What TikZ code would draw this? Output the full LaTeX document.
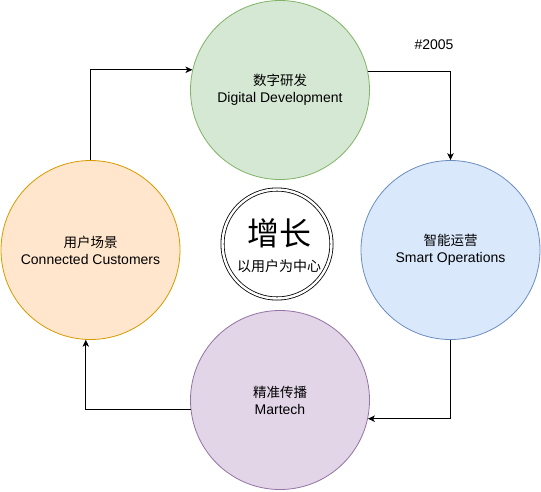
\documentclass[tikz,border=0pt]{standalone}
\usepackage{fontspec}
\setmainfont{Liberation Sans}
\newfontfamily\cjk{Noto Sans CJK SC}
\usetikzlibrary{arrows.meta}
\definecolor{gfill}{HTML}{D5E8D4}\definecolor{gline}{HTML}{82B366}
\definecolor{bfill}{HTML}{DAE8FC}\definecolor{bline}{HTML}{6C8EBF}
\definecolor{ofill}{HTML}{FFE6CC}\definecolor{oline}{HTML}{D79B00}
\definecolor{pfill}{HTML}{E1D5E7}\definecolor{pline}{HTML}{9673A6}
\tikzset{
  bigcirc/.style={circle, draw, line width=0.8pt, minimum size=179pt, inner sep=0pt, align=center, font=\fontsize{14}{17}\selectfont},
  conn/.style={draw, line width=0.9pt, -{Stealth[length=7pt,width=6.5pt,inset=2pt]}},
}
\begin{document}
\begin{tikzpicture}[x=1pt,y=-1pt]
\useasboundingbox (0,0) rectangle (541,491);
\fill[white] (0,0) rectangle (541,491);
\node[bigcirc, fill=gfill, draw=gline] (top) at (280,90) {{\cjk\fontsize{13.5}{17}\selectfont 数字研发}\\Digital Development};
\node[bigcirc, fill=bfill, draw=bline] (right) at (450.5,250) {{\cjk\fontsize{13.5}{17}\selectfont 智能运营}\\Smart Operations};
\node[bigcirc, fill=pfill, draw=pline] (bottom) at (280,400) {{\cjk\fontsize{13.5}{17}\selectfont 精准传播}\\Martech};
\node[bigcirc, fill=ofill, draw=oline] (left) at (90.5,250) {{\cjk\fontsize{13.5}{17}\selectfont 用户场景}\\Connected Customers};
\node[circle, draw, line width=0.8pt, double, double distance=2.4pt, minimum size=109pt, inner sep=0pt] (center) at (277,244) {};
\node[font=\cjk\fontsize{32}{32}\selectfont, inner sep=0pt] (grow) at (279,233) {增长};
\node[font=\cjk\fontsize{14}{14}\selectfont, inner sep=0pt] (sub) at (279,266) {以用户为中心};
\node[font=\fontsize{14}{16}\selectfont, inner sep=0pt] (tag) at (434,45) {\#2005};
\draw[conn] (top.12.8) -| (right.north);
\draw[conn] (right.south) |- (bottom.-12.8);
\draw[conn] (bottom.186.4) -| (left.-93.2);
\draw[conn] (left.north) |- (top.167.2);
\end{tikzpicture}
\end{document}
